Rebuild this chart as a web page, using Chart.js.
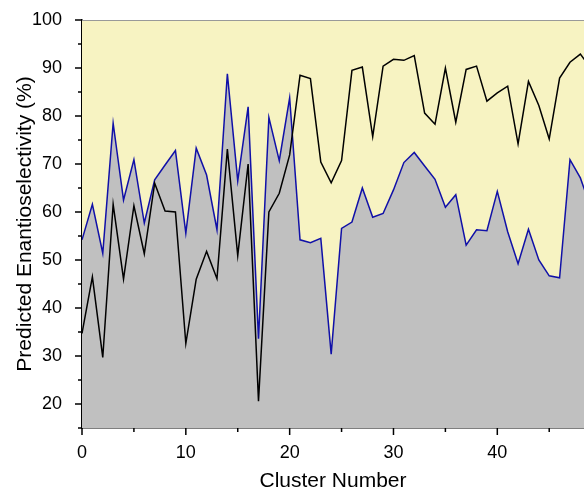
<!DOCTYPE html>
<html>
<head>
<meta charset="utf-8">
<script src="https://cdn.jsdelivr.net/npm/chart.js@4/dist/chart.umd.min.js"></script>
<style>
  html, body { margin: 0; padding: 0; background: #fff; }
  #wrap { width: 584px; height: 491px; }
</style>
</head>
<body>
<div id="wrap"><canvas id="chart"></canvas></div>
<script>
// cluster index 0..49 (axis shows up to ~48)
var clusters = [];
for (var i = 0; i < 50; i++) clusters.push(i);

var blueSeries = [54.2, 61.6, 51.4, 78.5, 62.5, 70.9, 57.7, 66.7, 69.8, 72.8,
                  55.6, 73.3, 67.7, 56.3, 88.8, 66.5, 81.9, 33.6, 79.7, 70.7,
                  83.8, 54.2, 53.6, 54.5, 30.4, 56.6, 57.9, 65.0, 58.9, 59.7,
                  64.6, 70.3, 72.4, 69.6, 66.8, 61.0, 63.6, 53.1, 56.3, 56.1,
                  64.3, 55.9, 49.2, 56.4, 50.0, 46.7, 46.3, 70.9, 67.1, 61.0];
var blackSeries = [34.7, 46.5, 29.7, 61.6, 46.0, 61.3, 51.3, 66.0, 60.2, 60.0,
                   32.6, 46.0, 51.8, 46.1, 73.1, 50.9, 70.0, 20.6, 60.0, 63.9,
                   71.9, 88.5, 87.8, 70.4, 66.1, 70.7, 89.5, 90.2, 75.7, 90.4,
                   91.8, 91.6, 92.6, 80.6, 78.3, 90.0, 78.7, 89.7, 90.4, 83.1,
                   84.8, 86.2, 74.2, 87.2, 82.2, 75.2, 87.9, 91.2, 92.9, 90.0];

var xTicks = [0, 5, 10, 15, 20, 25, 30, 35, 40, 45];
var yTicks = [15, 20, 25, 30, 35, 40, 45, 50, 55, 60, 65, 70, 75, 80, 85, 90, 95, 100];

var FONT = '"Liberation Sans", Arial, sans-serif';

function pts(arr) {
    return arr.map(function (v, i) { return { x: clusters[i], y: v }; });
}

// yellow plot background, top border, tick marks, axis titles
var decor = {
    id: 'decor',
    beforeDatasetsDraw: function (chart) {
        var a = chart.chartArea, ctx = chart.ctx;
        ctx.save();
        ctx.fillStyle = '#f7f3c2';
        ctx.fillRect(a.left, a.top, a.right - a.left, a.bottom - a.top);
        ctx.restore();
    },
    afterDraw: function (chart) {
        var a = chart.chartArea, ctx = chart.ctx;
        var xs = chart.scales.x, ys = chart.scales.y;
        ctx.save();
        ctx.strokeStyle = '#999';
        ctx.lineWidth = 1;
        ctx.beginPath();
        ctx.moveTo(a.left, a.top + 0.5);
        ctx.lineTo(a.right, a.top + 0.5);
        ctx.stroke();

        ctx.strokeStyle = '#000';
        ctx.lineWidth = 1.5;
        ctx.beginPath();
        xTicks.forEach(function (v) {
            var px = xs.getPixelForValue(v);
            var len = v % 10 === 0 ? 7 : 4;
            ctx.moveTo(px, a.bottom);
            ctx.lineTo(px, a.bottom + len);
        });
        yTicks.forEach(function (v) {
            var py = ys.getPixelForValue(v);
            var len = v % 10 === 0 ? 7 : 4;
            ctx.moveTo(a.left, py);
            ctx.lineTo(a.left - len, py);
        });
        ctx.stroke();

        ctx.fillStyle = '#000';
        ctx.font = '21px ' + FONT;
        ctx.textAlign = 'center';
        ctx.textBaseline = 'middle';
        ctx.fillText('Cluster Number', (a.left + a.right) / 2, 481);
        ctx.translate(25, (a.top + a.bottom) / 2);
        ctx.rotate(-Math.PI / 2);
        ctx.fillText('Predicted Enantioselectivity (%)', 0, 0);
        ctx.restore();
    }
};

var ctx = document.getElementById('chart').getContext('2d');
var myChart = new Chart(ctx, {
    type: 'line',
    data: {
        datasets: [{
            label: 'black',
            data: pts(blackSeries),
            borderColor: '#000',
            borderWidth: 1.5,
            pointRadius: 0,
            fill: false,
            tension: 0,
            order: 1
        }, {
            label: 'blue',
            data: pts(blueSeries),
            borderColor: '#1010a8',
            borderWidth: 1.5,
            backgroundColor: '#c0c0c0',
            pointRadius: 0,
            fill: 'start',
            tension: 0,
            order: 2
        }]
    },
    options: {
        responsive: true,
        maintainAspectRatio: false,
        animation: false,
        layout: { padding: { top: 20, right: 0, left: 0, bottom: 0 } },
        plugins: {
            legend: { display: false },
            tooltip: { enabled: false }
        },
        scales: {
            x: {
                type: 'linear',
                min: 0,
                max: 48.35,
                afterBuildTicks: function (s) {
                    s.ticks = xTicks.filter(function (v) { return v % 10 === 0; }).map(function (v) { return { value: v }; });
                },
                afterFit: function (s) { s.height = 63; },
                grid: { display: false },
                border: { display: true, color: '#000', width: 1.5 },
                ticks: {
                    padding: 6,
                    color: '#000',
                    maxRotation: 0,
                    font: { family: FONT, size: 18 }
                }
            },
            y: {
                min: 15,
                max: 100,
                afterBuildTicks: function (s) {
                    s.ticks = yTicks.filter(function (v) { return v % 10 === 0; }).map(function (v) { return { value: v }; });
                },
                afterFit: function (s) { s.width = 82; s.paddingTop = 0; },
                grid: { display: false },
                border: { display: true, color: '#000', width: 1.5 },
                ticks: {
                    padding: 12,
                    color: '#000',
                    font: { family: FONT, size: 18 }
                }
            }
        }
    },
    plugins: [decor]
});
</script>
</body>
</html>
